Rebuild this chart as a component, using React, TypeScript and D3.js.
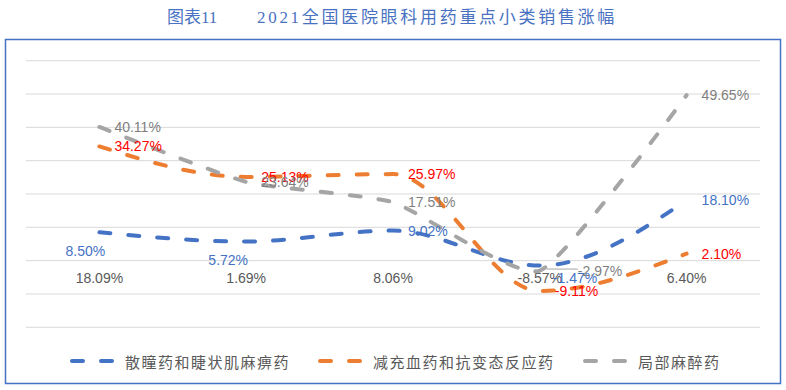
import React, { useEffect, useRef } from 'react';
import * as d3 from 'd3';

// category labels (the overall growth shown under each group)
const categories = ['18.09%', '1.69%', '8.06%', '-8.57%', '6.40%'];

const seriesNames = ['散瞳药和睫状肌麻痹药', '减充血药和抗变态反应药', '局部麻醉药'];
const mydriatic = [8.5, 5.72, 9.02, -1.47, 18.1];
const decongestant = [34.27, 25.13, 25.97, -9.11, 2.1];
const anesthetic = [40.11, 23.64, 17.51, -2.97, 49.65];

const yTicks = [-20, -10, 0, 10, 20, 30, 40, 50, 60];

const lineColors = ['#4472C4', '#ED7D31', '#A5A5A5'];
const labelColors = ['#4472C4', '#FF0000', '#7F7F7F'];

// label offsets from each point: [dx, dy, anchor]
type Place = [number, number, string];
const R: Place = [15, 0, 'start'];
const labelPlaces: Place[][] = [
  [[-14, 19, 'middle'], [-18, 18, 'middle'], R, [13, 12, 'start'], R],
  [R, R, R, R, R],
  [R, R, R, [38, 0, 'start'], R],
];

// smoothing per series (excel-like look)
const curves = [d3.curveMonotoneX, d3.curveMonotoneX, d3.curveCardinal.tension(0.5)];

export default function App() {
  const ref = useRef<SVGSVGElement>(null);

  useEffect(() => {
    document.body.style.margin = '0';
    const svg = d3.select(ref.current);
    svg.selectAll('*').remove();

    const W = 786, H = 390;
    const x = d3.scaleBand().domain(categories).range([26, 760]);
    const cx = (c: string) => (x(c) as number) + x.bandwidth() / 2;
    const y = d3.scaleLinear().domain([-20, 60]).range([327.3, 60.7]);

    svg.append('rect').attr('width', W).attr('height', H).attr('fill', '#fff');

    // title
    const title = svg.append('g').attr('fill', '#4A72C2')
      .style('font-family', '"Liberation Serif", "Noto Sans CJK SC", serif');
    title.append('text').attr('x', 167).attr('y', 23).attr('font-size', 17).text('图表11');
    title.append('text').attr('x', 257).attr('y', 23).attr('font-size', 17)
      .attr('letter-spacing', 2.7).text('2021全国医院眼科用药重点小类销售涨幅');

    // chart frame
    svg.append('rect').attr('x', 5.5).attr('y', 39.5).attr('width', 775).attr('height', 344)
      .attr('fill', 'none').attr('stroke', '#4472C4').attr('stroke-width', 1.5);

    // grid
    svg.append('g').selectAll('line').data(yTicks).enter().append('line')
      .attr('x1', 26).attr('x2', 760)
      .attr('y1', (d) => y(d)).attr('y2', (d) => y(d))
      .attr('stroke', '#D9D9D9').attr('stroke-width', 1);

    // category labels
    svg.append('g').selectAll('text').data(categories).enter().append('text')
      .attr('x', (d) => cx(d)).attr('y', 278).attr('text-anchor', 'middle')
      .attr('dominant-baseline', 'central').attr('fill', '#595959')
      .style('font-family', '"Liberation Sans", Arial, sans-serif').style('font-size', '14px')
      .text((d) => d);

    const allSeries = [mydriatic, decongestant, anesthetic];

    allSeries.forEach((vals, s) => {
      const line = d3.line<number>()
        .x((_, i) => cx(categories[i]))
        .y((d) => y(d))
        .curve(curves[s]);
      svg.append('path').attr('d', line(vals) as string)
        .attr('fill', 'none').attr('stroke', lineColors[s]).attr('stroke-width', 4)
        .attr('stroke-linecap', 'round').attr('stroke-dasharray', '11 18');
    });

    // leader line for the moved grey label
    svg.append('line')
      .attr('x1', cx(categories[3]) + 7).attr('x2', cx(categories[3]) + 38)
      .attr('y1', y(anesthetic[3]) - 1.5).attr('y2', y(anesthetic[3]) - 1.5)
      .attr('stroke', '#A5A5A5').attr('stroke-width', 1);

    allSeries.forEach((vals, s) => {
      svg.append('g').selectAll('text').data(vals).enter().append('text')
        .attr('x', (d, i) => cx(categories[i]) + labelPlaces[s][i][0])
        .attr('y', (d, i) => y(d) + labelPlaces[s][i][1])
        .attr('text-anchor', (d, i) => labelPlaces[s][i][2])
        .attr('dominant-baseline', 'central')
        .attr('fill', labelColors[s])
        .style('font-family', '"Liberation Sans", Arial, sans-serif').style('font-size', '14px')
        .text((d) => d.toFixed(2) + '%');
    });

    // legend
    const legendX = [70, 318, 583];
    const lg = svg.append('g');
    seriesNames.forEach((name, s) => {
      const g = lg.append('g').attr('transform', `translate(${legendX[s]},361)`);
      g.append('line').attr('x1', 2).attr('x2', 45).attr('y1', 0).attr('y2', 0)
        .attr('stroke', lineColors[s]).attr('stroke-width', 4)
        .attr('stroke-linecap', 'round').attr('stroke-dasharray', '11 18');
      g.append('text').attr('x', 55).attr('y', 0).attr('dominant-baseline', 'central')
        .attr('fill', '#595959').attr('letter-spacing', 1.5)
        .style('font-family', '"Noto Sans CJK SC", sans-serif').style('font-size', '15px')
        .text(name);
    });
  }, []);

  return (
    <svg ref={ref} width={786} height={390} style={{ position: 'absolute', left: 0, top: 0 }} />
  );
}
